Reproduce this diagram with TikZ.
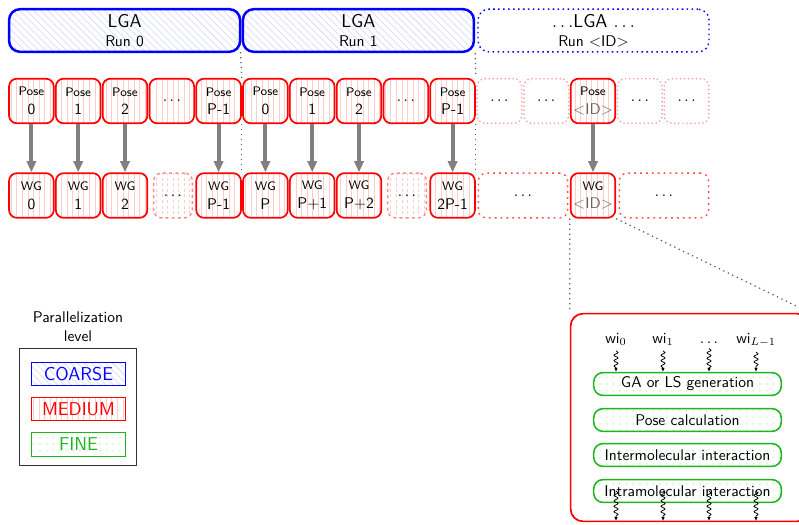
\documentclass[tikz,border=0pt]{standalone}
\usepackage{tikz}
\usetikzlibrary{arrows.meta,patterns.meta,decorations.pathmorphing}
\renewcommand{\familydefault}{\sfdefault}
\definecolor{finegreen}{RGB}{30,180,30}

\tikzset{
  lga/.style={draw=blue, line width=1.6pt, rounded corners=7pt, pattern={Lines[angle=-45,distance=3.2pt,line width=0.35pt]}, pattern color=blue!18, minimum width=149pt, minimum height=27.5pt, inner sep=0pt, align=center},
  lgafree/.style={draw=blue, line width=0.9pt, dash pattern=on 1pt off 2.2pt, rounded corners=7pt, minimum width=149pt, minimum height=27.5pt, inner sep=0pt, align=center},
  pose/.style={draw=red, line width=1.1pt, rounded corners=5pt, pattern={Lines[angle=90,distance=3.6pt,line width=0.35pt]}, pattern color=red!20, minimum width=28.8pt, minimum height=28.8pt, inner sep=0pt, align=center},
  posefree/.style={draw=red!40, line width=0.9pt, dash pattern=on 0.8pt off 1.8pt, rounded corners=5pt, minimum width=28.8pt, minimum height=28.8pt, inner sep=0pt},
  wgdots/.style={pose, draw=red!45, line width=0.9pt, dash pattern=on 2pt off 2pt, minimum width=25pt},
  wgfree/.style={posefree, draw=red!70, dash pattern=on 1.2pt off 2.6pt, minimum width=57.5pt},
  flow/.style={draw=black!50, line width=2.5pt, -{Triangle[length=7.3pt,width=6pt]}},
  sepline/.style={draw=black!65, line width=0.8pt, dash pattern=on 0.8pt off 2.4pt},
  wiggle/.style={decorate, decoration={snake, amplitude=1.3pt, segment length=3.5pt, post length=2pt}, -{Latex[length=2.5pt,width=2.2pt]}, line width=0.5pt},
  finebox/.style={draw=finegreen, line width=1pt, rounded corners=6pt, pattern={Dots[distance=4.3pt,radius=0.55pt]}, pattern color=green!30, minimum width=121pt, minimum height=14.7pt, inner sep=0pt},
  legentry/.style={line width=0.6pt, minimum width=61pt, minimum height=15.3pt, inner sep=0pt, font=\large}
}

\begin{document}
\begin{tikzpicture}[x=0.645pt, y=-0.645pt]
\useasboundingbox (0,0) rectangle (799,524);

\def\yl{30.5}
\def\yp{101}
\def\yw{195.5}

% LGA runs
\node[lga] (lga0) at (124.6,\yl) {{\large LGA}\\Run 0};
\node[lga] (lga1) at (358.4,\yl) {{\large LGA}\\Run 1};
\node[lgafree] (lgaid) at (593.5,\yl) {{\large $\ldots$LGA $\ldots$}\\Run $<$ID$>$};

% poses
\node[pose] (p0) at (31.4,\yp) {{\footnotesize Pose}\\0};
\node[pose] (p1) at (78.2,\yp) {{\footnotesize Pose}\\1};
\node[pose] (p2) at (125,\yp) {{\footnotesize Pose}\\2};
\node[pose] (pd) at (171.8,\yp) {$\ldots$};
\node[pose] (pP1) at (218.6,\yp) {{\footnotesize Pose}\\P-1};
\node[pose] (q0) at (265.4,\yp) {{\footnotesize Pose}\\0};
\node[pose] (q1) at (312.2,\yp) {{\footnotesize Pose}\\1};
\node[pose] (q2) at (359,\yp) {{\footnotesize Pose}\\2};
\node[pose] (qd) at (405.8,\yp) {$\ldots$};
\node[pose] (qP1) at (452.6,\yp) {{\footnotesize Pose}\\P-1};
\node[posefree] (f1) at (499.4,\yp) {$\ldots$};
\node[posefree] (f2) at (546.2,\yp) {$\ldots$};
\node[pose] (pid) at (593,\yp) {{\footnotesize Pose}\\\textcolor{black!60}{$<$ID$>$}};
\node[posefree] (f3) at (639.8,\yp) {$\ldots$};
\node[posefree] (f4) at (686.6,\yp) {$\ldots$};

% work-groups
\node[pose] (w0) at (31.4,\yw) {{\footnotesize WG}\\0};
\node[pose] (w1) at (78.2,\yw) {{\footnotesize WG}\\1};
\node[pose] (w2) at (125,\yw) {{\footnotesize WG}\\2};
\node[wgdots] (wd1) at (173,\yw) {$\ldots$};
\node[pose] (wP1) at (218.6,\yw) {{\footnotesize WG}\\P-1};
\node[pose] (wP) at (265.4,\yw) {{\footnotesize WG}\\P};
\node[pose] (wPa) at (312.2,\yw) {{\footnotesize WG}\\P$+$1};
\node[pose] (wPb) at (359,\yw) {{\footnotesize WG}\\P$+$2};
\node[wgdots] (wd2) at (407,\yw) {$\ldots$};
\node[pose] (w2P1) at (452.6,\yw) {{\footnotesize WG}\\2P-1};
\node[wgfree] (wf1) at (523,\yw) {$\ldots$};
\node[pose] (wid) at (593,\yw) {{\footnotesize WG}\\\textcolor{black!60}{$<$ID$>$}};
\node[wgfree] (wf2) at (664,\yw) {$\ldots$};

\draw[flow] (p0) -- (w0);
\draw[flow] (p1) -- (w1);
\draw[flow] (p2) -- (w2);
\draw[flow] (pP1) -- (wP1);
\draw[flow] (q0) -- (wP);
\draw[flow] (q1) -- (wPa);
\draw[flow] (q2) -- (wPb);
\draw[flow] (qP1) -- (w2P1);
\draw[flow] (pid) -- (wid);

\draw[sepline] (lga0.south east) -- (pP1.north east);
\draw[sepline] (pP1.south east) -- (wP1.north east);
\draw[sepline] (lga1.south east) -- (qP1.north east);
\draw[sepline] (qP1.south east) -- (w2P1.north east);

% inside one work-group
\node[draw=red, line width=1.1pt, rounded corners=8pt, minimum width=154pt, minimum height=134pt] (detail) at (690,417.5) {};
\draw[sepline] (wid.south west) -- (detail.north west);
\draw[sepline] (wid.south east) -- (detail.north east);

\node[anchor=base] (wi0) at (616,343) {wi$_0$};
\node[anchor=base] (wi1) at (663,343) {wi$_1$};
\node[anchor=base] (wid3) at (709,343) {$\dots$};
\node[anchor=base] (wiL) at (756,343) {wi$_{L-1}$};

\node[finebox] (ga) at (687.5,384) {GA or LS generation};
\node[finebox] (calc) at (687.5,420) {Pose calculation};
\node[finebox] (inter) at (687.5,455) {Intermolecular interaction};
\node[finebox] (intra) at (687.5,491) {Intramolecular interaction};

\coordinate (o0) at (616,521);
\coordinate (o1) at (663,521);
\coordinate (o2) at (709,521);
\coordinate (o3) at (756,521);

\draw[wiggle] (wi0) -- (ga.north -| wi0);
\draw[wiggle] (wi1) -- (ga.north -| wi1);
\draw[wiggle] (wid3) -- (ga.north -| wid3);
\draw[wiggle] (wiL) -- (ga.north -| wiL);
\draw[wiggle] (intra -| o0) -- (o0);
\draw[wiggle] (intra -| o1) -- (o1);
\draw[wiggle] (intra -| o2) -- (o2);
\draw[wiggle] (intra -| o3) -- (o3);

% legend
\node[align=center] (legtitle) at (78,327) {Parallelization\\level};
\node[draw=black!80, line width=0.8pt, minimum width=75.5pt, minimum height=75.5pt] (legend) at (78,407) {};
\node[legentry, draw=blue, text=blue, pattern={Lines[angle=-45,distance=3.2pt,line width=0.35pt]}, pattern color=blue!18] (coarse) at (78.5,374) {COARSE};
\node[legentry, draw=red, text=red, pattern={Lines[angle=90,distance=3.6pt,line width=0.35pt]}, pattern color=red!20] (medium) at (78.5,409) {MEDIUM};
\node[legentry, draw=finegreen, text=finegreen, pattern={Dots[distance=4.3pt,radius=0.55pt]}, pattern color=green!30] (fine) at (78.5,444.5) {FINE};

\end{tikzpicture}
\end{document}
